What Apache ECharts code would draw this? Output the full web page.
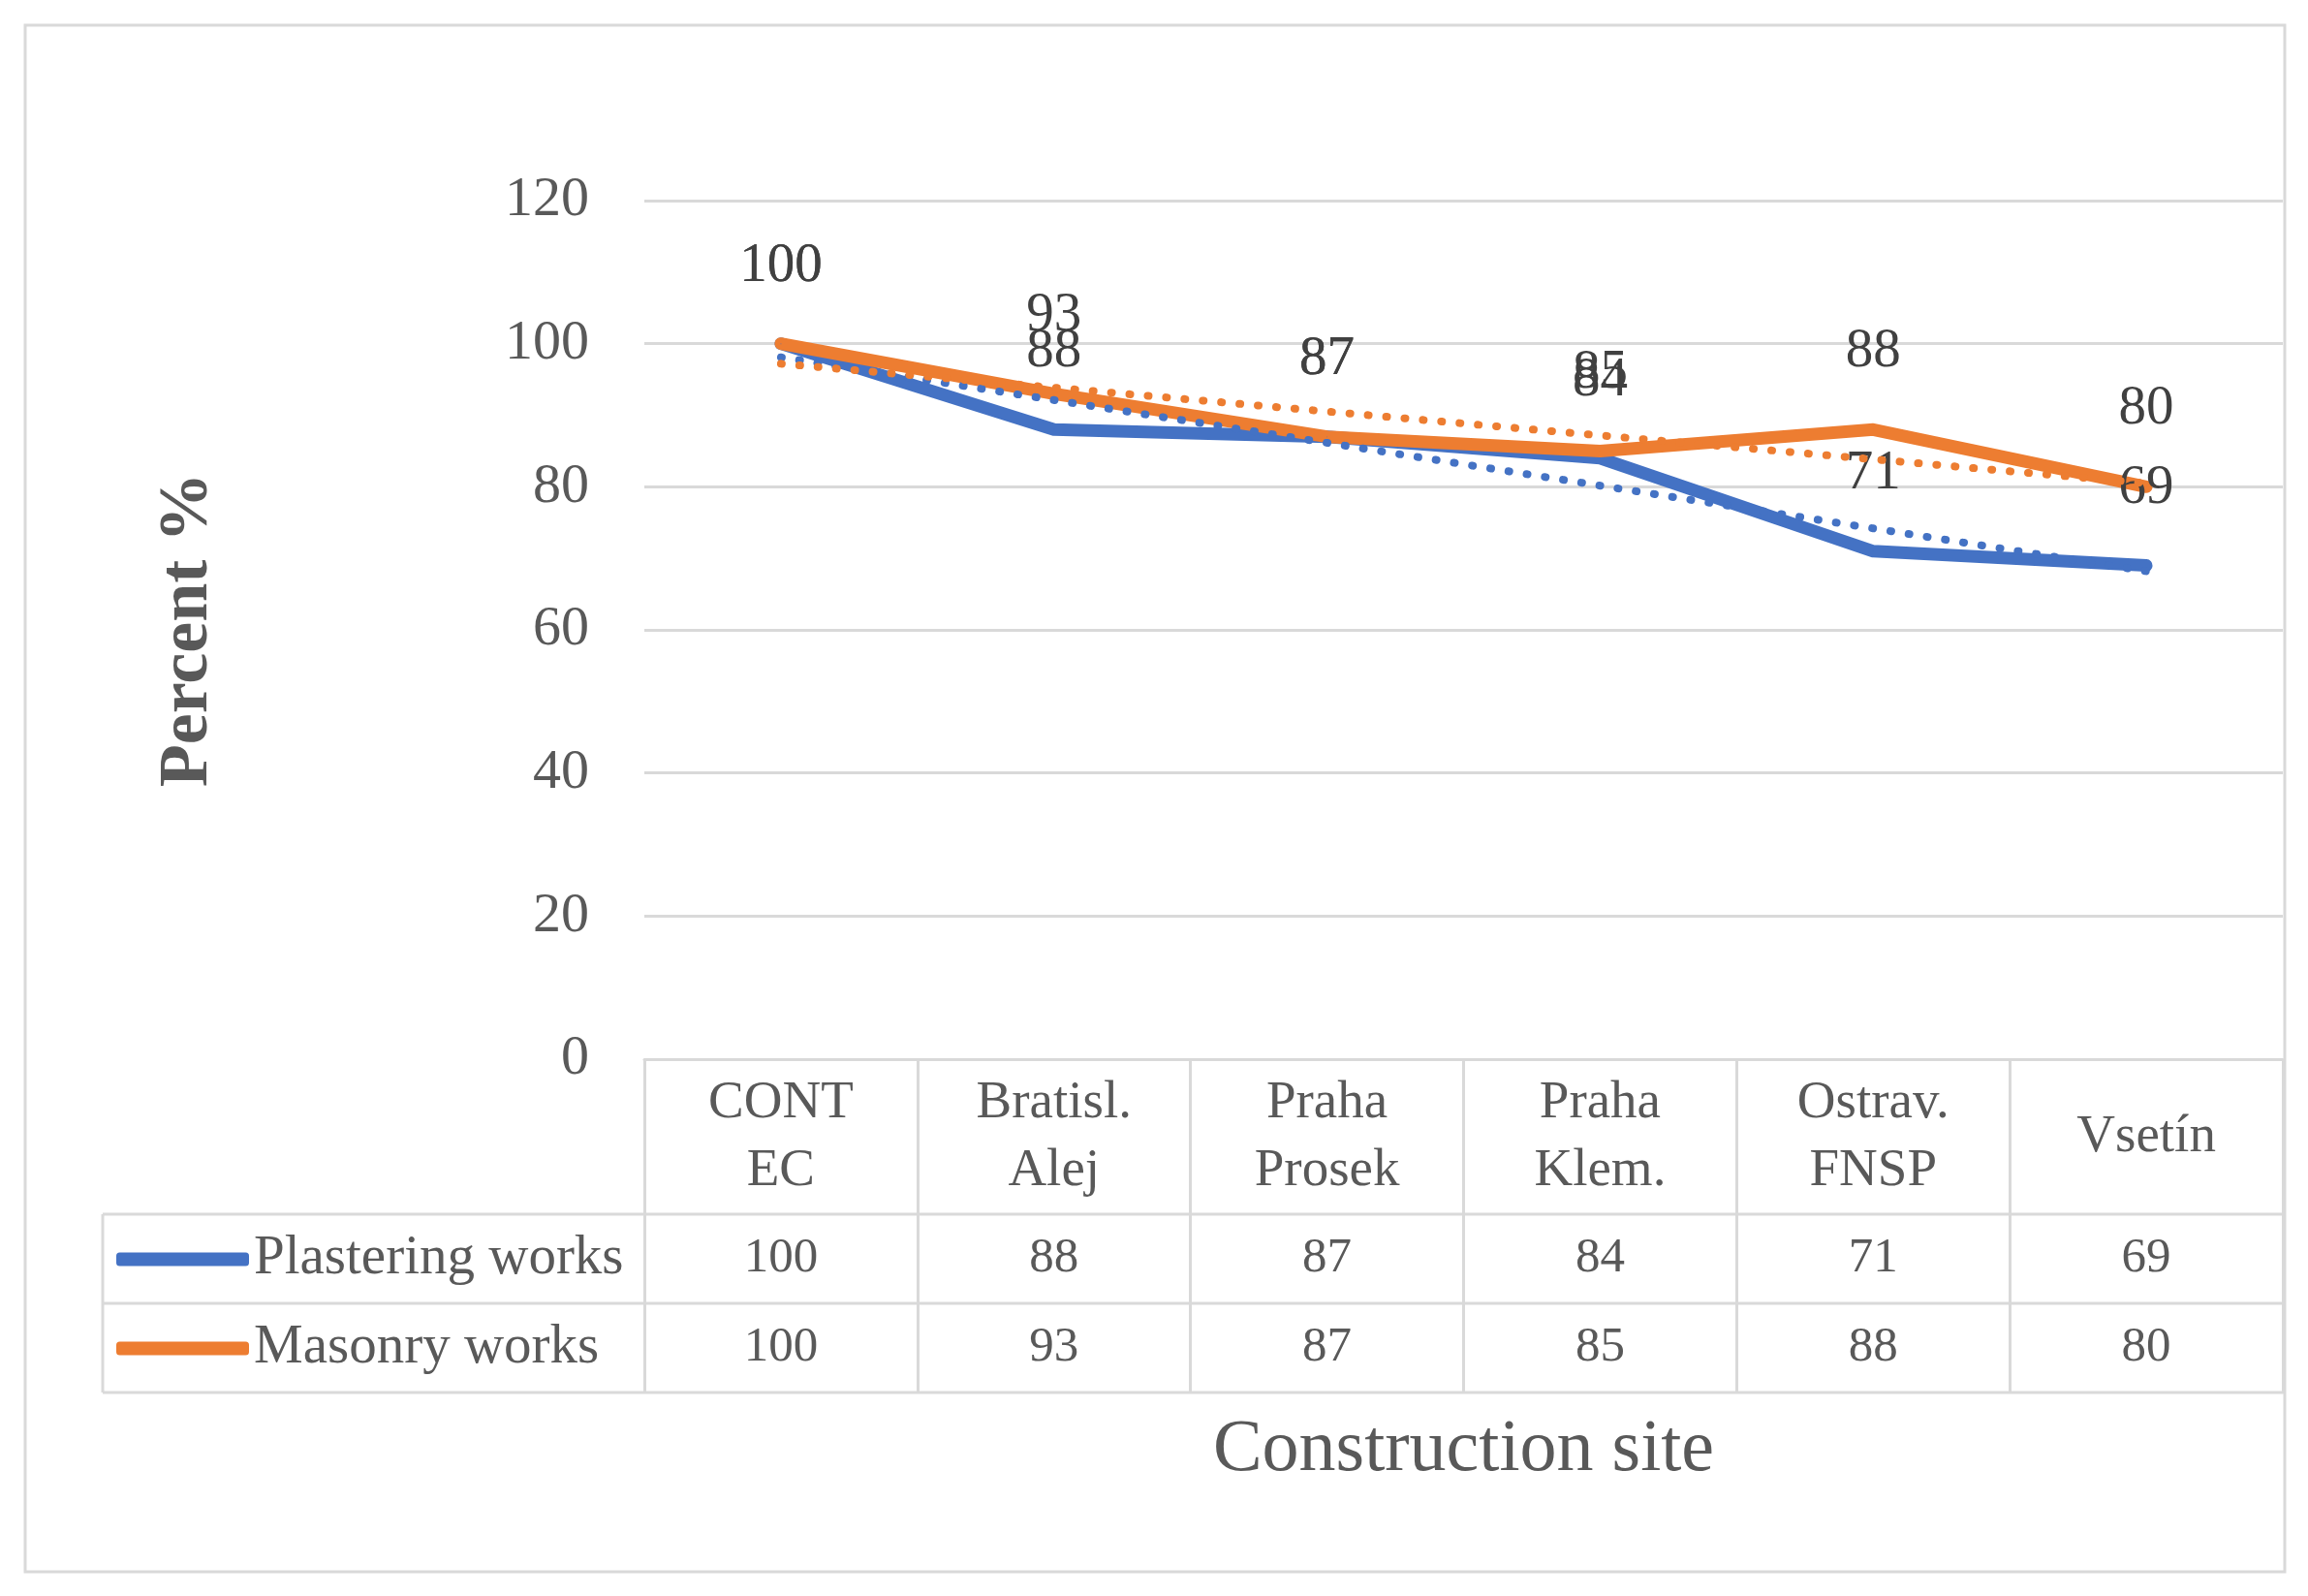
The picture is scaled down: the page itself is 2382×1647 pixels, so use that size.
<!DOCTYPE html>
<html>
<head>
<meta charset="utf-8">
<script src="https://cdn.jsdelivr.net/npm/echarts@6/dist/echarts.min.js"></script>
<style>html,body{margin:0;padding:0;background:#fff}#c{width:2382px;height:1647px}</style>
</head>
<body>
<div id="c"></div>
<script>
// ---- data ----
const categories = ['CONT\nEC', 'Bratisl.\nAlej', 'Praha\nProsek', 'Praha\nKlem.', 'Ostrav.\nFNSP', 'Vsetín'];
const plastering = [100, 88, 87, 84, 71, 69];
const masonry = [100, 93, 87, 85, 88, 80];
// linear trend lines, end points
const plasteringTrend = [98.1, null, null, null, null, 68.2];
const masonryTrend = [97.2, null, null, null, null, 80.5];
const seriesNames = ['Plastering works', 'Masonry works'];
const yMin = 0, yMax = 120, yStep = 20;

const FONT = 'Liberation Serif';
const GRID = '#D9D9D9';
const TXT = '#595959';
const BLUE = '#4472C4';
const ORANGE = '#ED7D31';

const chart = echarts.init(document.getElementById('c'), null, {renderer: 'canvas'});

function mainSeries(name, data, color) {
  return {
    name: name, type: 'line', xAxisIndex: 0, yAxisIndex: 0, data: data,
    symbol: 'circle', symbolSize: 1, showSymbol: true,
    itemStyle: {color: color},
    lineStyle: {color: color, width: 13, cap: 'round', join: 'round'},
    label: {show: true, position: 'top', distance: 51, fontSize: 57, color: '#404040', fontFamily: FONT},
    emphasis: {disabled: true}, z: 2
  };
}
function trendSeries(name, data, color) {
  return {
    name: name, type: 'line', xAxisIndex: 0, yAxisIndex: 0, data: data,
    connectNulls: true, symbol: 'none',
    lineStyle: {color: color, width: 8, type: [1, 18], cap: 'round'},
    emphasis: {disabled: true}, z: 3, silent: true
  };
}

const option = {
  animation: false,
  backgroundColor: '#ffffff',
  textStyle: {fontFamily: FONT},
  grid: [
    {left: 665, right: 26, top: 207, bottom: 554},
    {left: 665, right: 26, top: 1093, bottom: 210}
  ],
  legend: {
    data: seriesNames, orient: 'vertical', left: 120, top: 1271, padding: 0,
    itemWidth: 137, itemHeight: 14, itemGap: 35, icon: 'roundRect',
    textStyle: {fontSize: 57, color: TXT, fontFamily: FONT, lineHeight: 57}
  },
  xAxis: [
    {
      gridIndex: 0, type: 'category', data: categories, boundaryGap: true,
      axisLine: {show: true, lineStyle: {color: GRID, width: 3}},
      axisTick: {show: false},
      axisLabel: {interval: 0, fontSize: 55, color: TXT, fontFamily: FONT, lineHeight: 70, verticalAlign: 'middle', margin: 81},
      name: 'Construction site', nameLocation: 'middle', nameGap: 366,
      nameTextStyle: {fontSize: 76, color: TXT, fontFamily: FONT}
    },
    {
      gridIndex: 0, type: 'category', data: categories, position: 'bottom', offset: 206,
      axisLine: {show: false}, axisTick: {show: false},
      axisLabel: {interval: 0, margin: 0, verticalAlign: 'middle', fontSize: 51, color: TXT, fontFamily: FONT,
        formatter: function (v, i) { return String(plastering[i]); }}
    },
    {
      gridIndex: 0, type: 'category', data: categories, position: 'bottom', offset: 298,
      axisLine: {show: false}, axisTick: {show: false},
      axisLabel: {interval: 0, margin: 0, verticalAlign: 'middle', fontSize: 51, color: TXT, fontFamily: FONT,
        formatter: function (v, i) { return String(masonry[i]); }}
    },
    {
      gridIndex: 1, type: 'category', data: categories, boundaryGap: true,
      axisLine: {show: false}, axisTick: {show: false}, axisLabel: {show: false},
      splitLine: {show: true, interval: 0, lineStyle: {color: GRID, width: 3}}
    }
  ],
  yAxis: [
    {
      gridIndex: 0, type: 'value', min: yMin, max: yMax, interval: yStep,
      axisLine: {show: false}, axisTick: {show: false},
      splitLine: {show: true, lineStyle: {color: GRID, width: 3}},
      axisLabel: {fontSize: 58, color: TXT, fontFamily: FONT, margin: 57},
      name: 'Percent %', nameLocation: 'middle', nameRotate: 90, nameGap: 435,
      nameTextStyle: {fontSize: 72, fontWeight: 'bold', color: TXT, fontFamily: FONT}
    },
    {gridIndex: 1, type: 'value', show: false}
  ],
  series: [
    mainSeries(seriesNames[0], plastering, BLUE),
    mainSeries(seriesNames[1], masonry, ORANGE),
    trendSeries('Plastering trend', plasteringTrend, BLUE),
    trendSeries('Masonry trend', masonryTrend, ORANGE)
  ],
  graphic: [
    {type: 'rect', silent: true, shape: {x: 26, y: 26, width: 2332, height: 1596},
      style: {fill: 'none', stroke: GRID, lineWidth: 3}},
    {type: 'line', silent: true, shape: {x1: 106, y1: 1253, x2: 2358, y2: 1253}, style: {stroke: GRID, lineWidth: 3}},
    {type: 'line', silent: true, shape: {x1: 106, y1: 1345, x2: 2358, y2: 1345}, style: {stroke: GRID, lineWidth: 3}},
    {type: 'line', silent: true, shape: {x1: 106, y1: 1437, x2: 2358, y2: 1437}, style: {stroke: GRID, lineWidth: 3}},
    {type: 'line', silent: true, shape: {x1: 106, y1: 1253, x2: 106, y2: 1437}, style: {stroke: GRID, lineWidth: 3}}
  ]
};
chart.setOption(option);
</script>
</body>
</html>
